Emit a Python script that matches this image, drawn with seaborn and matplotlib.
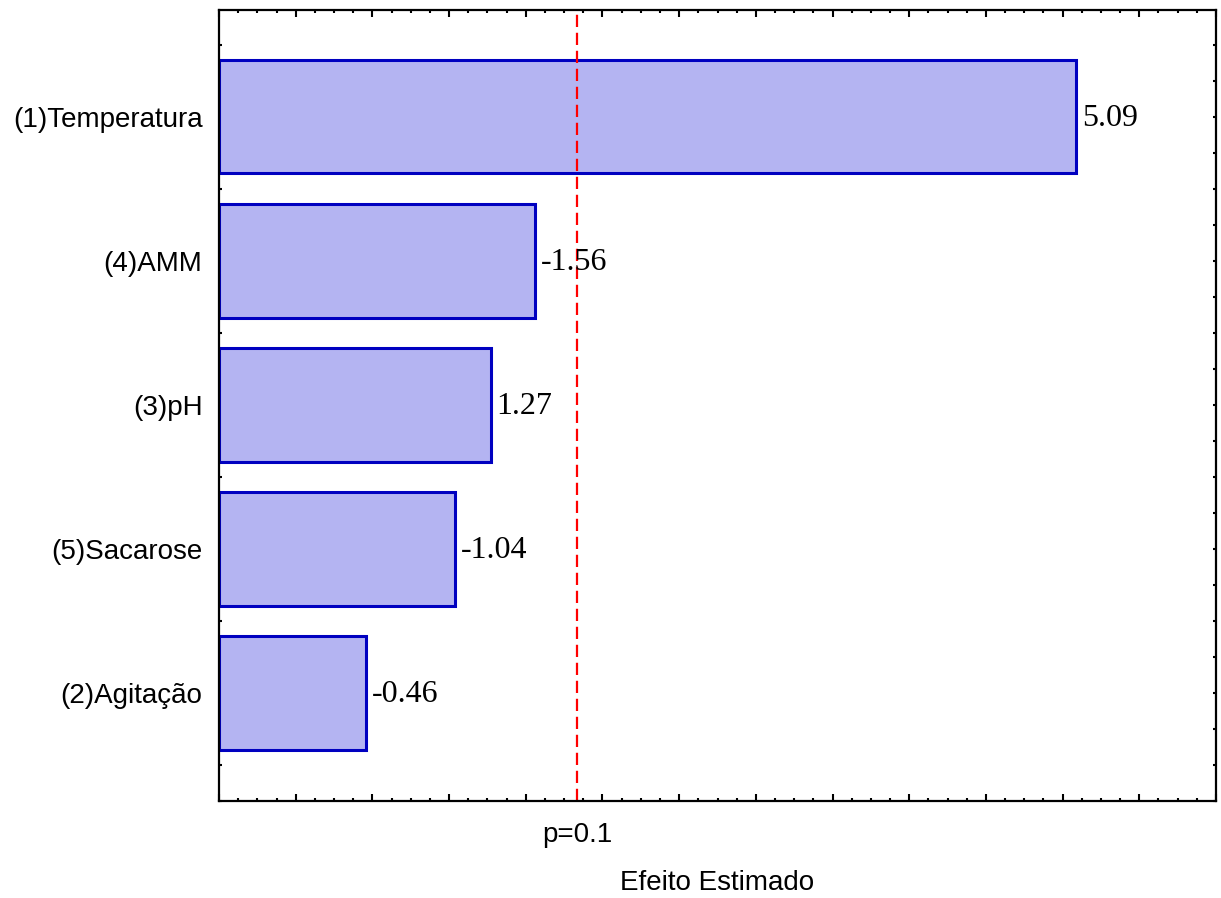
import numpy as np
import pandas as pd
import matplotlib
matplotlib.use("Agg")
import matplotlib.pyplot as plt
from matplotlib.ticker import MultipleLocator, NullFormatter
from matplotlib.transforms import blended_transform_factory
import seaborn as sns

# Standardized effects (Pareto order) and the critical t value for p = 0.1
factors = ["(1)Temperatura", "(4)AMM", "(3)pH", "(5)Sacarose", "(2)Agitação"]
effects = [5.09, -1.56, 1.27, -1.04, -0.46]
t_crit = 1.833
crit_label = "p=0.1"
x_title = "Efeito Estimado"

sns.set_theme(style="white")
plt.rcParams["font.family"] = ["Liberation Sans", "DejaVu Sans"]
plt.rcParams["text.color"] = "black"
plt.rcParams["axes.labelcolor"] = "black"
plt.rcParams["xtick.color"] = "black"
plt.rcParams["ytick.color"] = "black"

df = pd.DataFrame({"factor": factors, "effect": effects})
df["abs_effect"] = df["effect"].abs()

fig = plt.figure(figsize=(12.21, 8.98), dpi=100)
ax = fig.add_axes([0.1794, 0.108, 0.8165, 0.8809])

sns.barplot(data=df, x="abs_effect", y="factor", orient="h", ax=ax,
            color="#b4b4f2", saturation=1, width=0.785,
            edgecolor="#0000c0", linewidth=2.2)

x_min, x_max = -0.5, 6.0
# bars grow from the left edge of the axis
for patch, val in zip(ax.patches, df["abs_effect"]):
    patch.set_x(x_min)
    patch.set_width(val - x_min)
    patch.set_facecolor("#b4b4f2")
    patch.set_edgecolor("#0000c0")

for i, (val, eff) in enumerate(zip(df["abs_effect"], df["effect"])):
    ax.annotate(f"{eff:.2f}", xy=(val, i), xytext=(4, -1),
                textcoords="offset points", va="center", ha="left",
                fontsize=23, family="Liberation Serif", color="black")

ax.axvline(t_crit, color="#ff0000", lw=1.6, dashes=(5.5, 2.6), zorder=1)

ax.set_xlim(x_min, x_max)
ax.set_ylim(len(factors) - 0.25, -0.743)

ax.xaxis.set_major_locator(MultipleLocator(0.5))
ax.xaxis.set_minor_locator(MultipleLocator(0.125))
ax.xaxis.set_major_formatter(NullFormatter())
ax.yaxis.set_minor_locator(MultipleLocator(0.25))

ax.tick_params(axis="x", which="major", direction="in", length=5, width=1.5,
               top=True, bottom=True)
ax.tick_params(axis="x", which="minor", direction="in", length=2.5, width=1.5,
               top=True, bottom=True)
ax.tick_params(axis="y", which="both", direction="in", length=2.5, width=1.5,
               left=True, right=True, labelsize=20, pad=12, labelcolor="black")

for sp in ax.spines.values():
    sp.set_visible(True)
    sp.set_color("black")
    sp.set_linewidth(1.6)

trans = blended_transform_factory(ax.transData, ax.transAxes)
ax.text(t_crit, -0.026, crit_label, transform=trans, ha="center", va="top",
        fontsize=20, color="black")

ax.set_ylabel("")
ax.set_xlabel(x_title, fontsize=20, color="black")
ax.xaxis.set_label_coords(0.5, -0.087)
ax.xaxis.label.set_va("top")

fig.savefig("out.png", dpi=100)
